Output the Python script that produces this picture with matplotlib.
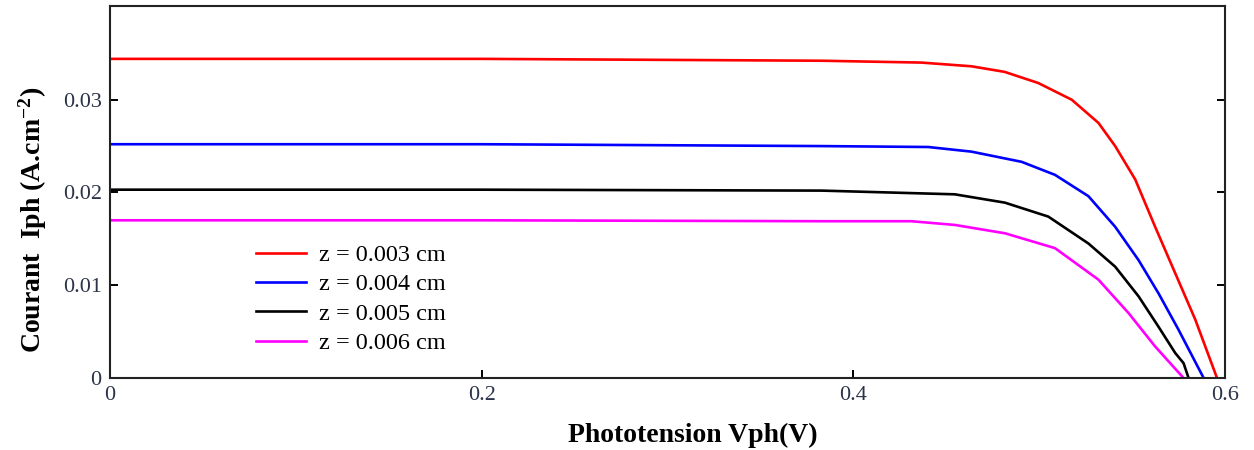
import matplotlib
matplotlib.use("Agg")
import matplotlib.pyplot as plt

plt.rcParams['font.family'] = ['Liberation Serif', 'DejaVu Serif']
plt.rcParams['mathtext.default'] = 'regular'

# photovoltage (V) vs photocurrent density (A/cm2)
v_003 = [0.0, 0.20, 0.383, 0.4367, 0.4636, 0.4814, 0.4995, 0.5175, 0.5319, 0.5409, 0.5517, 0.5624, 0.5732, 0.5840, 0.5957]
i_003 = [0.0344, 0.0344, 0.0342, 0.0340, 0.0336, 0.0330, 0.0318, 0.0300, 0.0275, 0.0250, 0.0214, 0.0163, 0.0113, 0.0063, 0.0]

v_004 = [0.0, 0.20, 0.383, 0.4403, 0.4636, 0.4906, 0.5085, 0.5265, 0.5409, 0.5535, 0.5643, 0.5750, 0.5885]
i_004 = [0.0252, 0.0252, 0.0250, 0.0249, 0.0244, 0.0233, 0.0219, 0.0196, 0.0163, 0.0127, 0.0091, 0.0052, 0.0]

v_005 = [0.0, 0.20, 0.383, 0.4546, 0.4816, 0.5049, 0.5265, 0.5409, 0.5535, 0.5643, 0.5732, 0.5777, 0.5804]
i_005 = [0.0203, 0.0203, 0.0202, 0.0198, 0.0189, 0.0174, 0.0145, 0.0120, 0.0088, 0.0055, 0.0027, 0.0016, 0.0]

v_006 = [0.0, 0.20, 0.383, 0.4313, 0.4546, 0.4816, 0.5085, 0.5319, 0.5481, 0.5624, 0.5777]
i_006 = [0.0170, 0.0170, 0.0169, 0.0169, 0.0165, 0.0156, 0.0140, 0.0106, 0.0070, 0.0034, 0.0]

labels = ["z = 0.003 cm", "z = 0.004 cm", "z = 0.005 cm", "z = 0.006 cm"]
colors = ["#ff0000", "#0000ff", "#000000", "#ff00ff"]

x_ticks = [0, 0.2, 0.4, 0.6]
x_ticklabels = ["0", "0.2", "0.4", "0.6"]
y_ticks = [0, 0.01, 0.02, 0.03]
y_ticklabels = ["0", "0.01", "0.02", "0.03"]

fig = plt.figure(figsize=(12.54, 4.5), dpi=100)
ax = fig.add_axes([110 / 1254, 1 - 378 / 450, 1115 / 1254, 372 / 450])

series = [(v_003, i_003), (v_004, i_004), (v_005, i_005), (v_006, i_006)]
for (v, i), lab, c in zip(series, labels, colors):
    ax.plot(v, i, color=c, lw=1.9, label=lab)

ax.set_xlim(0, 0.6)
ax.set_ylim(0, 0.0401)
ax.set_xticks(x_ticks)
ax.set_xticklabels(x_ticklabels)
ax.set_yticks(y_ticks)
ax.set_yticklabels(y_ticklabels)
ax.tick_params(direction='in', length=6, width=1.4, labelsize=16,
               labelcolor='#2a3348', right=True, pad=6)

for s in ax.spines.values():
    s.set_linewidth(1.5)
    s.set_color('#222222')

ax.set_xlabel("Phototension Vph(V)", fontsize=20, fontweight='bold')
ax.xaxis.set_label_coords(0.523, -0.155, transform=ax.transAxes)
ax.xaxis.label.set_va('center')
ax.set_ylabel("Courant  Iph (A.cm$^{-2}$)", fontsize=20, fontweight='bold')
ax.yaxis.set_label_coords(-0.069, 0.425, transform=ax.transAxes)
ax.yaxis.label.set_va('center')

ax.legend(loc='upper left', bbox_to_anchor=(0.131, 0.36), frameon=False,
          fontsize=17.5, handlelength=2.05, handletextpad=0.55, labelspacing=0.3,
          borderpad=0, borderaxespad=0)

fig.savefig("out.png", dpi=100)
